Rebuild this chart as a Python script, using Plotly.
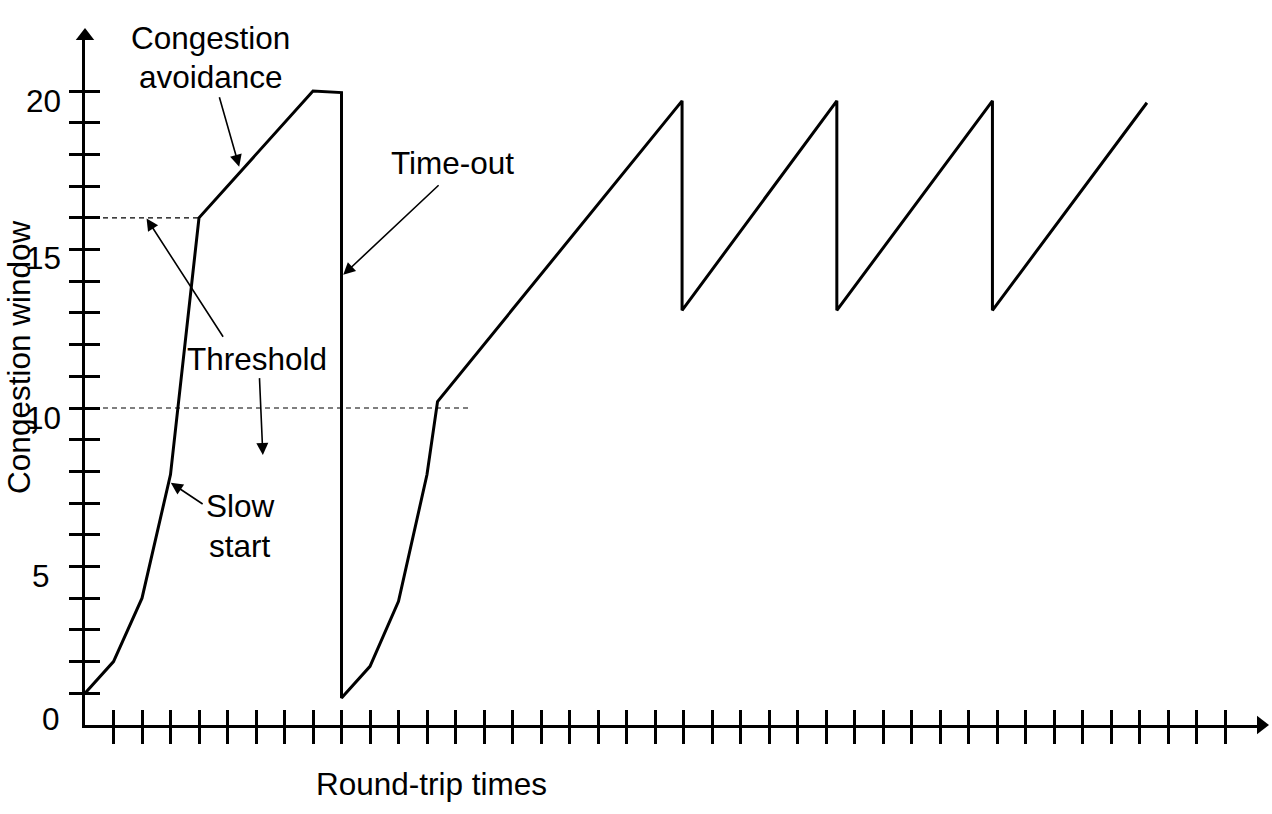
import plotly.graph_objects as go

# ---------------- data ----------------
rtt = [0, 1, 2, 3, 4, 8, 9, 9, 10, 11, 12, 12.37, 20.95, 20.95, 26.38, 26.38, 31.84, 31.84, 37.26]
cwnd = [1.0, 2.0, 4.0, 7.9, 16.0, 20.0, 19.95, 0.85, 1.85, 3.9, 7.9, 10.2, 19.69, 13.08, 19.69, 13.08, 19.69, 13.08, 19.63]

threshold_levels = [16, 10]
threshold_ends = [4, 13.48]

y_tick_values = [0, 5, 10, 15, 20]
y_tick_labels = ["0", "5", "10", "15", "20"]
y_minor_ticks = list(range(1, 21))
x_minor_ticks = list(range(1, 41))

# ---------------- geometry / style ----------------
W, H = 1272, 814
L, R, T, B = 85, 11, 36, 89
px_per_x, px_per_y = 28.5, 31.7
x_max = (W - L - R) / px_per_x
y_max = (H - T - B) / px_per_y
FONT = "Liberation Sans, Arial, sans-serif"
FS = 31.5
plot_w = W - L - R
plot_h = H - T - B

fig = go.Figure()

# congestion window curve
fig.add_trace(go.Scatter(x=rtt, y=cwnd, mode="lines",
                         line=dict(color="black", width=3),
                         hoverinfo="skip", showlegend=False))

# threshold dashed lines (on overlay axes that carry the inside ticks)
tx, ty = [], []
for lvl, end in zip(threshold_levels, threshold_ends):
    tx += [0, end, None]
    ty += [lvl, lvl, None]
fig.add_trace(go.Scatter(x=tx, y=ty, mode="lines", xaxis="x2", yaxis="y2",
                         line=dict(color="black", width=1.2, dash="5px,4px"),
                         hoverinfo="skip", showlegend=False))

# axis arrow heads
fig.add_trace(go.Scatter(x=[0], y=[y_max], mode="markers", cliponaxis=False,
                         marker=dict(symbol="triangle-up", size=16, color="black"),
                         hoverinfo="skip", showlegend=False))
fig.add_trace(go.Scatter(x=[x_max], y=[0], mode="markers", cliponaxis=False,
                         marker=dict(symbol="triangle-right", size=16, color="black"),
                         hoverinfo="skip", showlegend=False))

common = dict(showgrid=False, zeroline=False, showticklabels=False,
              tickcolor="black", tickwidth=3)
fig.update_layout(
    width=W, height=H,
    margin=dict(l=L, r=R, t=T, b=B),
    paper_bgcolor="white", plot_bgcolor="white",
    xaxis=dict(range=[0, x_max], tickmode="array", tickvals=x_minor_ticks,
               ticks="outside", ticklen=16, showline=True, linecolor="black",
               linewidth=3, **common),
    yaxis=dict(range=[0, y_max], tickmode="array", tickvals=y_minor_ticks,
               ticks="outside", ticklen=13, showline=True, linecolor="black",
               linewidth=3, **common),
    xaxis2=dict(range=[0, x_max], overlaying="x", anchor="y2", side="bottom",
                tickmode="array", tickvals=x_minor_ticks, ticks="inside",
                ticklen=15, showline=False, **common),
    yaxis2=dict(range=[0, y_max], overlaying="y", anchor="x2", side="left",
                tickmode="array", tickvals=y_minor_ticks, ticks="inside",
                ticklen=15, showline=False, **common),
)

font = dict(family=FONT, size=FS, color="black")

# y tick labels
label_right_px = {"0": 62, "5": 52, "10": 63, "15": 63, "20": 63}
label_shift = {"0": 6, "5": -9, "10": -10, "15": -8, "20": -10}
for v, t in zip(y_tick_values, y_tick_labels):
    fig.add_annotation(x=(label_right_px[t] - L) / plot_w, xref="paper",
                       y=v, yref="y", text=t, showarrow=False,
                       xanchor="right", yanchor="middle", yshift=label_shift[t],
                       font=font)

# axis titles
fig.add_annotation(x=12.16, xref="x", y=(725 - 784) / plot_h, yref="paper",
                   text="Round-trip times", showarrow=False,
                   xanchor="center", yanchor="middle", font=font)
fig.add_annotation(x=(19 - L) / plot_w, xref="paper", y=11.58, yref="y",
                   text="Congestion window", textangle=-90, showarrow=False,
                   xanchor="center", yanchor="middle", font=font)

# text labels
texts = [("Congestion", 4.42, 21.67), ("avoidance", 4.42, 20.44),
         ("Time-out", 12.91, 17.73), ("Threshold", 6.04, 11.55),
         ("Slow", 5.44, 6.91), ("start", 5.44, 5.65)]
for t, x, y in texts:
    fig.add_annotation(x=x, y=y, xref="x", yref="y", text=t, showarrow=False,
                       xanchor="center", yanchor="middle", font=font)

# pointer arrows (tail -> tip)
arrows = [((4.70, 19.85), (5.41, 17.61)),
          ((12.46, 17.07), (9.06, 14.20)),
          ((4.88, 12.20), (2.16, 15.98)),
          ((6.12, 10.99), (6.24, 8.52)),
          ((4.18, 6.94), (3.01, 7.64))]
for (ax_, ay_), (x, y) in arrows:
    fig.add_annotation(x=x, y=y, ax=ax_, ay=ay_, xref="x", yref="y",
                       axref="x", ayref="y", text="", showarrow=True,
                       arrowhead=2, arrowsize=1.5, arrowwidth=1.6,
                       arrowcolor="black", standoff=0)

fig.write_html("out.html")
